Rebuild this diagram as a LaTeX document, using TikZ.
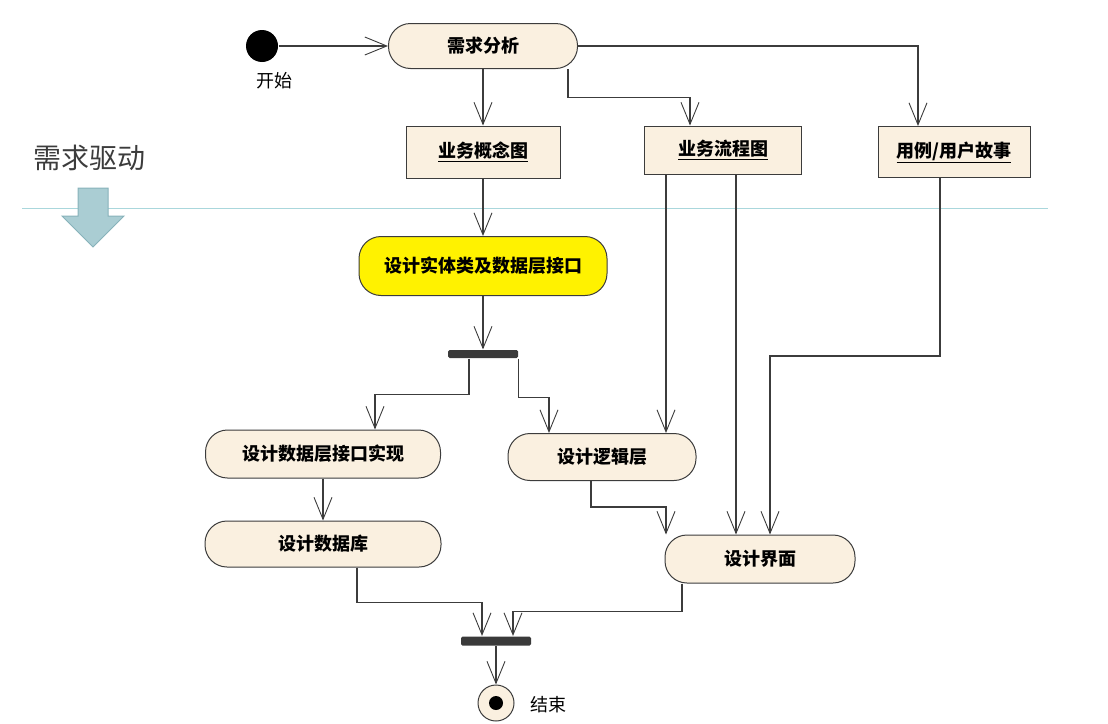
\documentclass[tikz,border=0pt]{standalone}
\usepackage{fontspec}
\setmainfont{Noto Sans CJK SC}
\usepackage{tikz}
\usetikzlibrary{arrows.meta,calc}

\definecolor{actfill}{RGB}{250,240,224}
\definecolor{linegray}{RGB}{60,60,60}
\definecolor{barfill}{RGB}{58,58,58}
\definecolor{lanecyan}{RGB}{170,215,220}
\definecolor{blockblue}{RGB}{170,205,211}
\definecolor{blockedge}{RGB}{135,178,186}

\begin{document}
\begin{tikzpicture}[x=1pt,y=-1pt,->,>={Straight Barb[length=22pt,width=18pt,line width=0.9pt]},
    every path/.style={draw=linegray,line width=1.1pt},
    act/.style={draw=linegray,fill=actfill,rounded corners=22pt,line width=1pt,
      inner sep=0pt,font=\bfseries\fontsize{18}{20}\selectfont},
    doc/.style={draw=linegray,fill=actfill,line width=1pt,inner sep=0pt,
      font=\bfseries\fontsize{18}{20}\selectfont},
    bar/.style={fill=barfill,draw=none,rounded corners=1.5pt,
      minimum width=70pt,minimum height=8pt,inner sep=0pt}]
  \useasboundingbox[draw=none] (0,0) rectangle (1108,723);

  % swimlane
  \draw[-,draw=lanecyan,line width=0.8pt] (22,208) -- (1048,208);
  \node[font=\fontsize{28}{30}\selectfont,text=linegray] (lane) at (89,158) {需求驱动};
  \draw[-,fill=blockblue,draw=blockedge,line width=1pt] (78,188) -- (108,188) -- (108,216)
    -- (124,216) -- (93,247) -- (62,216) -- (78,216) -- cycle;

  \node[circle,fill=black,draw=none,minimum size=32pt,inner sep=0pt] (start) at (262,46) {};
  \node[font=\fontsize{18}{20}\selectfont] (startlbl) at (274,81) {开始};

  \node[act,minimum width=189pt,minimum height=45pt] (need) at (483,46) {需求分析};
  \node[doc,minimum width=154pt,minimum height=52pt] (concept) at (483,152) {\underline{业务概念图}};
  \node[doc,minimum width=157pt,minimum height=48pt] (process) at (723,150) {\underline{业务流程图}};
  \node[doc,minimum width=152pt,minimum height=51pt] (usecase) at (954,152) {\underline{用例/用户故事}};

  \node[act,fill=yellow,minimum width=248pt,minimum height=59pt] (entity) at (483,266) {设计实体类及数据层接口};
  \node[bar] (fork) at (483,354) {};

  \node[act,minimum width=235pt,minimum height=48pt] (dataimpl) at (323,454) {设计数据层接口实现};
  \node[act,minimum width=236pt,minimum height=46pt] (database) at (323,544) {设计数据库};
  \node[act,minimum width=188pt,minimum height=47pt] (logic) at (602,457) {设计逻辑层};
  \node[act,minimum width=190pt,minimum height=48pt] (ui) at (760,559) {设计界面};

  \node[bar,minimum height=9pt] (join) at (496,641) {};
  \node[circle,draw=linegray,fill=actfill,line width=1pt,minimum size=36pt,inner sep=0pt] (stop) at (496,703) {};
  \fill[-,draw=none,fill=black] (stop) circle (7pt);
  \node[font=\fontsize{18}{20}\selectfont] (stoplbl) at (548,705) {结束};

  % requirement analysis
  \draw (start) -- (need);
  \draw (need) -- (concept);
  \draw ([xshift=85pt]need.south) |- ([xshift=-33pt,yshift=28pt]process.north) -- ([xshift=-33pt]process.north);
  \draw (need.east) -| ([xshift=-36pt]usecase.north);

  % design
  \draw (concept) -- (entity);
  \draw (entity) -- (fork);
  \draw ([xshift=-14pt]fork.south) -- ++(0,36) -| ([xshift=52pt]dataimpl.north);
  \draw (fork.south east) -- ++(0,39) -| ([xshift=-53pt]logic.north);
  \draw ([xshift=-57pt]process.south) -- ([xshift=-57pt]process.south |- logic.north);
  \draw ([xshift=13pt]process.south) -- ([xshift=13pt]process.south |- ui.north);
  \draw ([xshift=-14pt]usecase.south) -- ++(0,178) -| ([xshift=10pt]ui.north);
  \draw (dataimpl) -- (database);
  \draw ([xshift=-11pt]logic.south) -- ++(0,26) -| ([xshift=-94pt]ui.north);

  % join
  \draw ([xshift=34pt]database.south) -- ++(0,35) -| ([xshift=-14pt]join.north);
  \draw ([xshift=-78pt]ui.south) -- ++(0,28) -| ([xshift=17pt]join.north);
  \draw (join) -- (stop);
\end{tikzpicture}
\end{document}
